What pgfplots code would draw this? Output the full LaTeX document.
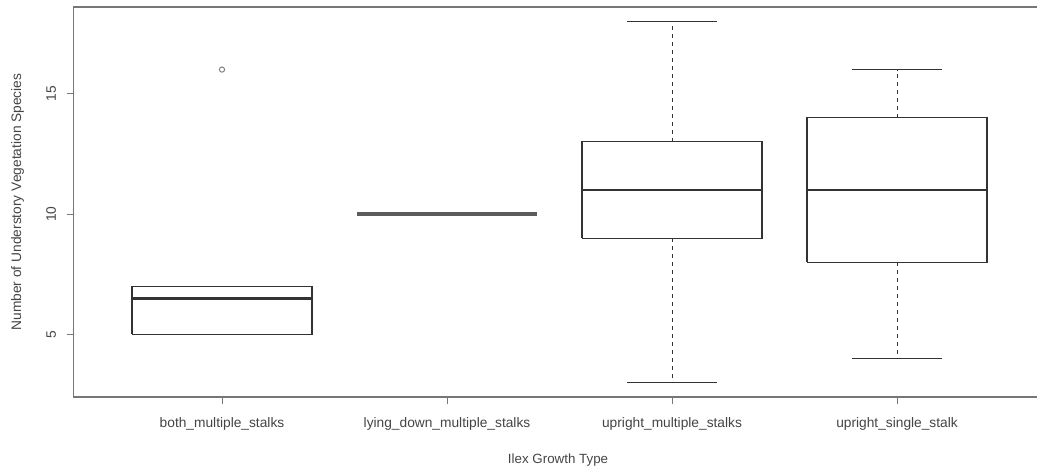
\documentclass[border=0pt]{standalone}
\usepackage{pgfplots}
\pgfplotsset{compat=1.18}
\usepackage{fontspec}
\setmainfont{Liberation Sans}
\definecolor{ink}{HTML}{333333}
\definecolor{frame}{HTML}{777777}
\definecolor{txt}{HTML}{444444}
\begin{document}
\begin{tikzpicture}[x=1bp,y=1bp]
\path[use as bounding box] (0,0) rectangle (1037,468);
\begin{axis}[
  at={(73.5bp,71bp)}, anchor=south west,
  scale only axis, width=972bp, height=390bp,
  xmin=0.34, xmax=4.66, ymin=2.4, ymax=18.6,
  xtick={1,2,3,4},
  xticklabels={both\_multiple\_stalks, lying\_down\_multiple\_stalks, upright\_multiple\_stalks, upright\_single\_stalk},
  ytick={5,10,15},
  /pgf/number format/assume math mode=true,
  tick align=outside, major tick length=7bp,
  tick pos=left,
  axis line style={draw=frame, line width=1.2bp},
  every tick/.style={frame, line width=1bp},
  tick label style={font=\fontsize{13.8}{15}\selectfont, text=txt},
  yticklabel style={rotate=90, anchor=south},
  xticklabel shift=10bp,
  yticklabel shift=7bp,
  xlabel={Ilex Growth Type},
  ylabel={Number of Understory Vegetation Species},
  label style={font=\fontsize{13.8}{15}\selectfont, text=txt},
  xlabel style={at={(axis description cs:0.4985,-0.1615)}, anchor=center, font=\fontsize{13.4}{15}\selectfont},
  ylabel style={at={(axis description cs:-0.0576,0.5)}, anchor=center},
]
% boxes (lower quartile to upper quartile, width 0.8)
\addplot[ink, line width=1.1bp] coordinates {(0.6,5) (1.4,5) (1.4,7) (0.6,7) (0.6,5)};
\addplot[ink, line width=1.1bp] coordinates {(2.6,9) (3.4,9) (3.4,13) (2.6,13) (2.6,9)};
\addplot[ink, line width=1.1bp] coordinates {(3.6,8) (4.4,8) (4.4,14) (3.6,14) (3.6,8)};
% medians
\addplot[ink, line width=2.8bp] coordinates {(0.6,6.5) (1.4,6.5)};
\addplot[ink!80, line width=3.8bp] coordinates {(1.6,10) (2.4,10)};
\addplot[ink, line width=2.8bp] coordinates {(2.6,11) (3.4,11)};
\addplot[ink, line width=2.8bp] coordinates {(3.6,11) (4.4,11)};
% whiskers (dashed) and staples (solid)
\addplot[ink, line width=1bp, dash pattern=on 4bp off 4bp] coordinates {(3,13) (3,18)};
\addplot[ink, line width=1bp, dash pattern=on 4bp off 4bp] coordinates {(3,9) (3,3)};
\addplot[ink, line width=1bp, dash pattern=on 4bp off 4bp] coordinates {(4,14) (4,16)};
\addplot[ink, line width=1bp, dash pattern=on 4bp off 4bp] coordinates {(4,8) (4,4)};
\addplot[ink, line width=1.1bp] coordinates {(2.8,18) (3.2,18)};
\addplot[ink, line width=1.1bp] coordinates {(2.8,3) (3.2,3)};
\addplot[ink, line width=1.1bp] coordinates {(3.8,16) (4.2,16)};
\addplot[ink, line width=1.1bp] coordinates {(3.8,4) (4.2,4)};
% outlier
\addplot[only marks, mark=o, mark size=2.6bp, mark options={draw=frame, line width=0.9bp}] coordinates {(1,16)};
\end{axis}
\end{tikzpicture}
\end{document}
